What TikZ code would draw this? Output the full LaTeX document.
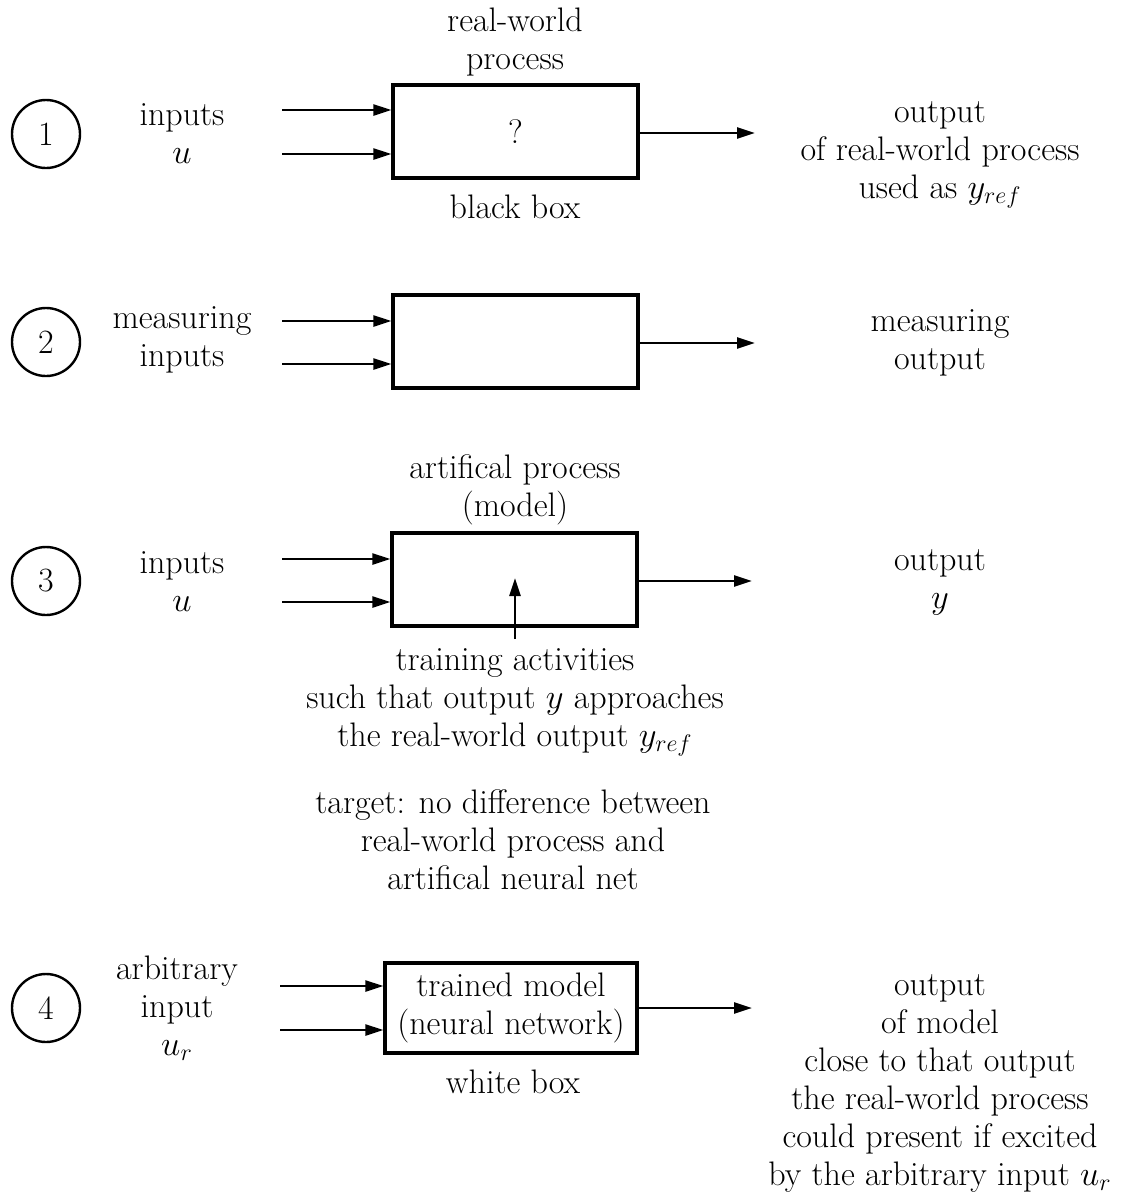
\documentclass[tikz,border=0pt]{standalone}
\usetikzlibrary{arrows.meta}
\begin{document}
\begin{tikzpicture}[x=0.5pt,y=-0.5pt,
  every node/.style={font=\fontsize{17}{19}\selectfont, inner sep=0pt, align=center},
  conn/.style={line width=1.2pt, -{Triangle[length=9pt,width=5.5pt]}},
  procbox/.style={draw, line width=1.6pt, minimum width=122.5pt, minimum height=46.5pt},
  stepnum/.style={draw, circle, line width=1.2pt, minimum size=34pt}]
\useasboundingbox (0,0) rectangle (1122,1196);

% ---------- row 1 ----------
\node[stepnum] (c1) at (46,134) {1};
\node (in1) at (182,134) {inputs\\$u$};
\node[procbox] (box1) at (515.5,131.5) {?};
\node (t1) at (515,42) {real-world\\process};
\node (bb1) at (515,207) {black box};
\node (out1) at (940,155) {output\\of real-world process\\used as $y_{ref}$};
\coordinate (i1a) at (282,110);
\coordinate (i1b) at (282,154);
\coordinate (o1) at (755,133);
\draw[conn] (i1a) -- (i1a -| box1.west);
\draw[conn] (i1b) -- (i1b -| box1.west);
\draw[conn] (box1.east |- o1) -- (o1);

% ---------- row 2 ----------
\node[stepnum] (c2) at (46,342) {2};
\node (in2) at (182,340) {measuring\\inputs};
\node[procbox] (box2) at (515.5,341.5) {};
\node (out2) at (940,343) {measuring\\output};
\coordinate (i2a) at (282,321);
\coordinate (i2b) at (282,364);
\coordinate (o2) at (755,343);
\draw[conn] (i2a) -- (i2a -| box2.west);
\draw[conn] (i2b) -- (i2b -| box2.west);
\draw[conn] (box2.east |- o2) -- (o2);

% ---------- row 3 ----------
\node[stepnum] (c3) at (46,581) {3};
\node (in3) at (182,582) {inputs\\$u$};
\node[procbox] (box3) at (514.5,579.5) {};
\node (t3) at (515,490) {artifical process\\(model)};
\node (out3) at (940,582) {output\\$y$};
\node (train) at (515,702) {training activities\\such that output $y$ approaches\\the real-world output $y_{ref}$};
\node (target) at (513,840) {target: no difference between\\real-world process and\\artifical neural net};
\coordinate (i3a) at (282,559);
\coordinate (i3b) at (282,602);
\coordinate (o3) at (752,581);
\coordinate (up3) at (515,578);
\coordinate (dn3) at (515,639);
\draw[conn] (dn3) -- (up3);

\draw[conn] (i3a) -- (i3a -| box3.west);
\draw[conn] (i3b) -- (i3b -| box3.west);
\draw[conn] (box3.east |- o3) -- (o3);

% ---------- row 4 ----------
\node[stepnum] (c4) at (46,1008) {4};
\node (in4) at (177,1008) {arbitrary\\input\\$u_r$};
\node[procbox, minimum width=126pt, minimum height=45pt] (box4) at (511,1008) {trained model\\(neural network)};
\node (wb4) at (513,1082) {white box};
\node (out4) at (940,1083) {output\\of model\\close to that output\\the real-world process\\could present if excited\\by the arbitrary input $u_r$};
\coordinate (i4a) at (280,986);
\coordinate (i4b) at (280,1030);
\coordinate (o4) at (752,1008);
\draw[conn] (i4a) -- (i4a -| box4.west);
\draw[conn] (i4b) -- (i4b -| box4.west);
\draw[conn] (box4.east |- o4) -- (o4);
\end{tikzpicture}
\end{document}
